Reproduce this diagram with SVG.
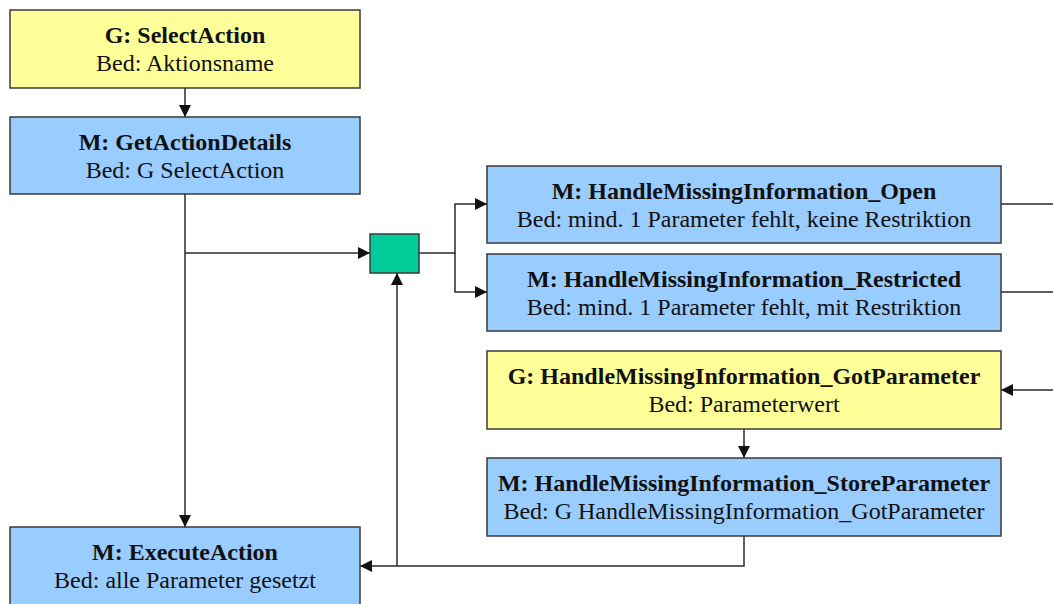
<svg xmlns="http://www.w3.org/2000/svg" width="1053" height="604" viewBox="0 0 1053 604">
  <style>
    .box { stroke: #3a3a3a; stroke-width: 1.5; }
    .goal { fill: #ffff99; }
    .method { fill: #99ccff; }
    .junction { fill: #00cc99; stroke: #3a3a3a; stroke-width: 1.5; }
    .title { font-family: "Liberation Serif", "Times New Roman", serif; font-size: 24px; font-weight: bold; fill: #111; text-anchor: middle; }
    .cond { font-family: "Liberation Serif", "Times New Roman", serif; font-size: 24px; fill: #111; text-anchor: middle; }
    .edge { fill: none; stroke: #2a2a2a; stroke-width: 1.5; }
    .arrow { marker-end: url(#head); }
  </style>
  <defs>
    <marker id="head" markerUnits="userSpaceOnUse" markerWidth="12" markerHeight="12" refX="12" refY="6" orient="auto">
      <path d="M0,0 L12,6 L0,12 Z" fill="#111"/>
    </marker>
  </defs>
  <rect width="1053" height="604" fill="#ffffff"/>

  <g id="connectors">
    <path class="edge arrow" d="M185,88 V117"/>
    <path class="edge arrow" d="M185,194 V527"/>
    <path class="edge arrow" d="M185,253 H370"/>
    <path class="edge arrow" d="M419,253 H455 V204 H487"/>
    <path class="edge arrow" d="M455,253 V292 H487"/>
    <path class="edge arrow" d="M744,429 V458"/>
    <path class="edge arrow" d="M744,536 V566 H360"/>
    <path class="edge arrow" d="M397,566 V273"/>
    <path class="edge" d="M1001,204 H1053"/>
    <path class="edge" d="M1001,292 H1053"/>
    <path class="edge arrow" d="M1053,390 H1001"/>
  </g>

  <g id="select-action">
    <rect class="box goal" x="10" y="10" width="350" height="78"/>
    <text class="title" x="185" y="43">G: SelectAction</text>
    <text class="cond" x="185" y="71">Bed: Aktionsname</text>
  </g>

  <g id="get-action-details">
    <rect class="box method" x="10" y="117" width="350" height="77"/>
    <text class="title" x="185" y="150">M: GetActionDetails</text>
    <text class="cond" x="185" y="178">Bed: G SelectAction</text>
  </g>

  <g id="junction">
    <rect class="junction" x="370" y="234" width="49" height="39"/>
  </g>

  <g id="hmi-open">
    <rect class="box method" x="487" y="166" width="514" height="77"/>
    <text class="title" x="744" y="199">M: HandleMissingInformation_Open</text>
    <text class="cond" x="744" y="227">Bed: mind. 1 Parameter fehlt, keine Restriktion</text>
  </g>

  <g id="hmi-restricted">
    <rect class="box method" x="487" y="254" width="514" height="77"/>
    <text class="title" x="744" y="287">M: HandleMissingInformation_Restricted</text>
    <text class="cond" x="744" y="315">Bed: mind. 1 Parameter fehlt, mit Restriktion</text>
  </g>

  <g id="hmi-got-parameter">
    <rect class="box goal" x="487" y="351" width="514" height="78"/>
    <text class="title" x="744" y="384">G: HandleMissingInformation_GotParameter</text>
    <text class="cond" x="744" y="412">Bed: Parameterwert</text>
  </g>

  <g id="hmi-store-parameter">
    <rect class="box method" x="487" y="458" width="514" height="78"/>
    <text class="title" x="744" y="491">M: HandleMissingInformation_StoreParameter</text>
    <text class="cond" x="744" y="519">Bed: G HandleMissingInformation_GotParameter</text>
  </g>

  <g id="execute-action">
    <rect class="box method" x="10" y="527" width="350" height="82"/>
    <text class="title" x="185" y="560">M: ExecuteAction</text>
    <text class="cond" x="185" y="588">Bed: alle Parameter gesetzt</text>
  </g>
</svg>
